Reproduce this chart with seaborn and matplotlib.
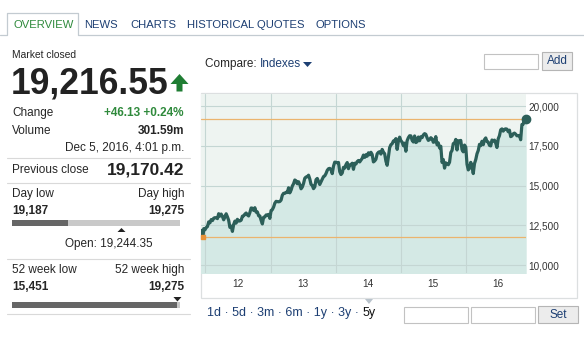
import pandas as pd
import matplotlib
matplotlib.use("Agg")
import matplotlib.pyplot as plt
import matplotlib.dates as mdates
from matplotlib.patches import Rectangle, Polygon
from matplotlib.ticker import FixedLocator, FuncFormatter, NullFormatter
import seaborn as sns

# ---- Dow Jones Industrial Average, weekly closes (Dec 2011 - Dec 2016) ----
dates_2011 = ["2011-12-05", "2011-12-09", "2011-12-16", "2011-12-19", "2011-12-23", "2011-12-30"]
close_2011 = [12097, 12184, 11866, 11766, 12294, 12218]

close_2012 = [12360, 12422, 12720, 12660,
              12862, 12801, 12950, 12983,
              12978, 12922, 13233, 13081, 13212,
              13060, 12850, 13029, 13228,
              13038, 12820, 12369, 12454,
              12119, 12554, 12767, 12640, 12880,
              12772, 12777, 12822, 13075,
              13096, 13207, 13275, 13157, 13090,
              13306, 13593, 13579, 13437,
              13610, 13328, 13343, 13107,
              13093, 12815, 12588, 13010, 13026,
              13155, 13135, 13190, 12938]

close_2013 = [13435, 13488, 13650, 13896,
              14010, 13993, 13982, 14001,
              14090, 14397, 14515, 14512, 14579,
              14565, 14865, 14547, 14712,
              14974, 15118, 15354, 15303, 15116,
              15248, 15070, 14800, 14910,
              15136, 15464, 15544, 15559,
              15658, 15425, 15081, 15010, 14810,
              14922, 15376, 15452, 15258,
              15073, 15237, 15400, 15570,
              15615, 15762, 15962, 16065, 16086,
              16020, 15755, 16221, 16479]

close_2014 = [16470, 16437, 16459, 15880, 15699,
              15794, 16154, 16103, 16322,
              16453, 16066, 16303, 16323,
              16412, 16027, 16409, 16361,
              16513, 16583, 16492, 16606, 16717,
              16924, 16776, 16948, 16852,
              17068, 16944, 17100, 16961,
              16493, 16554, 16663, 17001, 17098,
              17137, 16988, 17280, 17113,
              17009, 16544, 16280, 16805, 17391,
              17574, 17635, 17810, 17828,
              17959, 17281, 17805, 18053]

close_2015 = [17833, 17737, 17512, 17673, 17165,
              17825, 18019, 18141, 18133,
              17857, 17749, 18128, 17713,
              17763, 18058, 17826, 18080,
              18024, 18191, 18272, 18232, 18011,
              17849, 17899, 18016, 17947,
              17730, 17760, 18086, 17568, 17690,
              17373, 17477, 16460, 16643,
              16102, 16433, 16385, 16315,
              16472, 17084, 17216, 17647, 17664,
              17910, 17245, 17824, 17798,
              17848, 17265, 17128, 17553]

close_2016 = [17425, 16346, 15988, 16094, 16466,
              16205, 15760, 16392, 16640,
              17006, 17213, 17602, 17516,
              17793, 17577, 17898, 18004, 17774,
              17741, 17535, 17501, 17873,
              17807, 17865, 17675, 17400,
              17949, 18147, 18517, 18571, 18432,
              18544, 18577, 18553, 18396,
              18492, 18085, 18124, 18262, 18308,
              18240, 18138, 18145, 18161,
              17888, 18848, 18868, 19153,
              19171]

last_date = "2016-12-05"

# ---- quote panel ----
price = 19216.55
change = 46.13
change_pct = 0.24
volume = "301.59m"
timestamp = "Dec 5, 2016, 4:01 p.m."
prev_close = 19170.42
day_low, day_high = 19187, 19275
open_price = 19244.35
wk52_low, wk52_high = 15451, 19275

tabs = ["OVERVIEW", "NEWS", "CHARTS", "HISTORICAL QUOTES", "OPTIONS"]
range_links = ["1d", "5d", "3m", "6m", "1y", "3y", "5y"]
y_ticks = [10000, 12500, 15000, 17500, 20000]

# ---- assemble the series ----
parts = [pd.DataFrame({"date": pd.to_datetime(dates_2011), "close": close_2011})]
for start, vals in [("2012-01-06", close_2012), ("2013-01-04", close_2013),
                    ("2014-01-03", close_2014), ("2015-01-02", close_2015),
                    ("2016-01-01", close_2016)]:
    parts.append(pd.DataFrame({"date": pd.date_range(start, periods=len(vals), freq="W-FRI"),
                               "close": vals}))
parts.append(pd.DataFrame({"date": [pd.Timestamp(last_date)], "close": [price]}))
df = pd.concat(parts, ignore_index=True)

# ---- styling ----
sns.set_style("white")
plt.rcParams["font.family"] = ["Liberation Sans", "DejaVu Sans"]

W, H = 584, 339
NAVY = "#1d3f73"
GREEN = "#2f8a3c"
TEXT = "#262626"
LINE = "#2c5f59"
FILL = "#d4e9e5"
PANEL = "#eef4f1"
GRID = "#c4d6d3"
ORANGE = "#ebb46e"
RULE = "#d9d9d9"

fig = plt.figure(figsize=(W / 100, H / 100), dpi=100)
fig.patch.set_facecolor("white")

# full-figure layer in pixel coordinates for the page furniture
bg = fig.add_axes([0, 0, 1, 1])
bg.set_xlim(0, W)
bg.set_ylim(H, 0)
bg.axis("off")

# tab strip
bg.plot([0, 7, 7, 78, 78, W], [35, 35, 13, 13, 35, 35], color="#c3cbd1", lw=0.9)
tab_x = [13, 84, 130, 187, 315]
for name, x in zip(tabs, tab_x):
    bg.text(x, 25, name, fontsize=8.1, color=GREEN if name == "OVERVIEW" else NAVY,
            ha="left", va="center")

# quote panel
bg.text(12, 55, "Market closed", fontsize=7.4, color=TEXT, va="center")
bg.text(11, 84, f"{price:,.2f}", fontsize=25.6, fontweight="bold", color="#222222", va="center")
bg.add_patch(Polygon([(170.5, 84), (179.5, 74), (188.5, 84), (182.5, 84),
                      (182.5, 91.5), (176.5, 91.5), (176.5, 84)],
                     closed=True, color="#1f7d33", lw=0))

bg.text(12, 113, "Change", fontsize=8.5, color=TEXT, va="center")
bg.text(184, 113, f"+{change:.2f} +{change_pct:.2f}%", fontsize=8.5, fontweight="bold",
        color=GREEN, ha="right", va="center")
bg.text(12, 131, "Volume", fontsize=8.5, color=TEXT, va="center")
bg.text(184, 131, volume, fontsize=8.5, fontweight="bold", color=TEXT, ha="right", va="center")
bg.text(184, 148, timestamp, fontsize=8.5, color=TEXT, ha="right", va="center")

for y in [158, 183, 259, 314]:
    bg.plot([7, 190], [y, y], color=RULE, lw=0.8)

bg.text(12, 170, "Previous close", fontsize=8.5, color=TEXT, va="center")
bg.text(184, 170, f"{prev_close:,.2f}", fontsize=12.5, fontweight="bold", color="#222222",
        ha="right", va="center")

bar_x0, bar_x1 = 12, 180


def range_bar(y, lo, hi, value):
    pos = bar_x0 + (value - lo) / (hi - lo) * (bar_x1 - bar_x0)
    bg.add_patch(Rectangle((bar_x0, y), bar_x1 - bar_x0, 6, color="#c9c9c9", lw=0))
    bg.add_patch(Rectangle((bar_x0, y), pos - bar_x0, 6, color="#666666", lw=0))
    return pos


bg.text(12, 194, "Day low", fontsize=8.5, color=TEXT, va="center")
bg.text(184, 194, "Day high", fontsize=8.5, color=TEXT, ha="right", va="center")
bg.text(12, 211, f"{day_low:,}", fontsize=8.5, fontweight="bold", color=TEXT, va="center")
bg.text(184, 211, f"{day_high:,}", fontsize=8.5, fontweight="bold", color=TEXT, ha="right", va="center")
range_bar(220, day_low, day_high, price)
ox = bar_x0 + (open_price - day_low) / (day_high - day_low) * (bar_x1 - bar_x0)
bg.add_patch(Polygon([(ox - 4, 232), (ox, 228), (ox + 4, 232)], closed=True, color="#222222", lw=0))
bg.text(108.5, 244, f"Open: {open_price:,.2f}", fontsize=8.5, color=TEXT, ha="center", va="center")

bg.text(12, 270, "52 week low", fontsize=8.5, color=TEXT, va="center")
bg.text(184, 270, "52 week high", fontsize=8.5, color=TEXT, ha="right", va="center")
bg.text(12, 287, f"{wk52_low:,}", fontsize=8.5, fontweight="bold", color=TEXT, va="center")
bg.text(184, 287, f"{wk52_high:,}", fontsize=8.5, fontweight="bold", color=TEXT, ha="right", va="center")
wx = range_bar(302, wk52_low, wk52_high, price)
bg.add_patch(Polygon([(wx - 4, 297), (wx, 301.5), (wx + 4, 297)], closed=True, color="#222222", lw=0))

# compare row
cmp_txt = bg.text(205, 64, "Compare: ", fontsize=8.5, color=TEXT, va="center")
idx_txt = bg.annotate("Indexes", xy=(1, 0), xycoords=cmp_txt, va="bottom", ha="left",
                      fontsize=8.5, color=NAVY)
bg.add_patch(Polygon([(303, 62), (312, 62), (307.5, 67)], closed=True, color=NAVY, lw=0))
bg.add_patch(Rectangle((484, 54), 54, 15, facecolor="white", edgecolor="#c2c2c2", lw=0.8))
bg.add_patch(Rectangle((542, 52), 30, 18, facecolor="#ececec", edgecolor="#b5b5b5", lw=0.8))
bg.text(557, 61, "Add", fontsize=8.5, color=NAVY, ha="center", va="center")

# chart frame
bg.add_patch(Rectangle((201, 93), 376, 205, facecolor="white", edgecolor="#dcdfe0", lw=0.9))

# period links and date inputs
bg.add_patch(Polygon([(365, 299), (373, 299), (369, 304)], closed=True, color="#b9c3cc", lw=0))
lnk = bg.text(207, 313, " \u00b7 ".join(range_links[:-1]) + " \u00b7", fontsize=9.0,
              color=NAVY, va="center")
bg.annotate(range_links[-1], xy=(1, 0), xycoords=lnk, xytext=(2.4, 0),
            textcoords="offset points", va="bottom", ha="left", fontsize=9.0, color="#111111")
bg.add_patch(Rectangle((404, 307), 64, 16, facecolor="white", edgecolor="#c2c2c2", lw=0.8))
bg.add_patch(Rectangle((471, 307), 64, 16, facecolor="white", edgecolor="#c2c2c2", lw=0.8))
bg.add_patch(Rectangle((538, 306), 40, 17, facecolor="#ececec", edgecolor="#b5b5b5", lw=0.8))
bg.text(558, 315, "Set", fontsize=8.5, color=NAVY, ha="center", va="center")

# ---- price chart ----
ax_l, ax_r, ax_t, ax_b = 200.5, 526.2, 93.5, 273
ax = fig.add_axes([ax_l / W, 1 - ax_b / H, (ax_r - ax_l) / W, (ax_b - ax_t) / H])
ax.set_facecolor(PANEL)
ax.fill_between(df["date"], df["close"], 0, color=FILL, lw=0, zorder=1)
sns.lineplot(data=df, x="date", y="close", ax=ax, color=LINE, linewidth=2.3, zorder=4)

lo_idx = df["close"].idxmin()
ax.axhline(df["close"].max(), color=ORANGE, lw=0.9, zorder=3)
ax.axhline(df["close"].min(), color=ORANGE, lw=0.9, zorder=3)
ax.plot(df["date"].iloc[-1], df["close"].iloc[-1], "o", color=LINE, ms=6, zorder=5, clip_on=False)
ax.plot(df["date"].iloc[lo_idx], df["close"].iloc[lo_idx], "s", color="#e8933a", ms=3, zorder=5,
        clip_on=False)

ax.set_xlim(pd.Timestamp(dates_2011[0]), pd.Timestamp(last_date))
ax.set_ylim(9500, 20800)

ax.xaxis.set_major_locator(mdates.YearLocator())
ax.xaxis.set_major_formatter(NullFormatter())
ax.xaxis.set_minor_locator(mdates.MonthLocator(bymonth=7, bymonthday=1))
ax.xaxis.set_minor_formatter(mdates.DateFormatter("%y"))
ax.yaxis.set_major_locator(FixedLocator(y_ticks))
ax.yaxis.set_major_formatter(FuncFormatter(lambda v, p: f"{int(v):,}"))
ax.yaxis.tick_right()
ax.tick_params(axis="both", which="both", length=0, labelsize=7.2, labelcolor="#333333")
ax.tick_params(axis="x", which="minor", pad=4.6)
ax.tick_params(axis="y", pad=1.6)
ax.set_axisbelow(False)
ax.grid(True, which="major", color=GRID, lw=0.8)
ax.set_xlabel("")
ax.set_ylabel("")
for s in ax.spines.values():
    s.set_visible(False)

fig.savefig("out.png", dpi=100, facecolor="white")
